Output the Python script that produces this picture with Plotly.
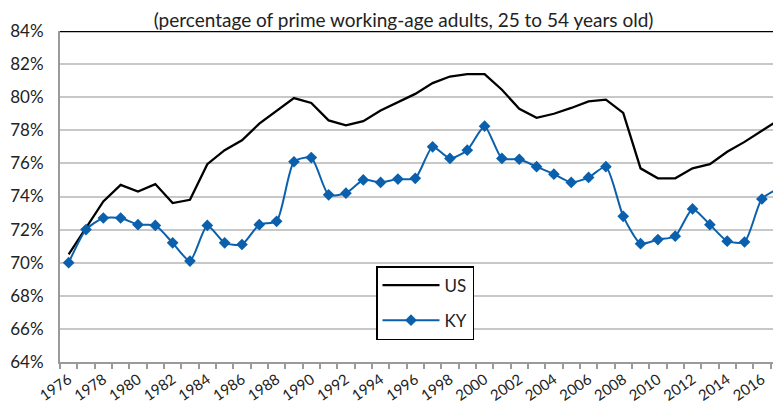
import plotly.graph_objects as go

years = list(range(1976, 2018))

us = [70.5, 72.1, 73.7, 74.7, 74.3, 74.75, 73.6, 73.8, 75.95, 76.8,
      77.4, 78.4, 79.15, 79.95, 79.65, 78.6, 78.3, 78.55, 79.2, 79.7,
      80.2, 80.85, 81.25, 81.4, 81.4, 80.45, 79.3, 78.75, 79.0, 79.35,
      79.75, 79.85, 79.05, 75.7, 75.1, 75.1, 75.7, 75.95, 76.7, 77.3,
      77.95, 78.65]

ky = [70.0, 72.0, 72.7, 72.7, 72.3, 72.25, 71.2, 70.1, 72.25, 71.2,
      71.1, 72.3, 72.5, 76.1, 76.35, 74.1, 74.2, 75.0, 74.85, 75.05,
      75.1, 77.0, 76.3, 76.8, 78.25, 76.3, 76.25, 75.8, 75.35, 74.85,
      75.15, 75.8, 72.8, 71.15, 71.4, 71.6, 73.25, 72.3, 71.3, 71.25,
      73.85, 74.5]

label_years = list(range(1976, 2017, 2))
y_ticks = list(range(64, 85, 2))
y_labels = [f"{v}%" for v in y_ticks]
title_text = "(percentage of prime working-age adults, 25 to 54 years old)"

FONT = "Lato"
OFF = 8  # default page body margin
W = 781 - 2 * OFF      # no horizontal page overflow
H = 413 - 2 * OFF      # no vertical page overflow
L, T = 60 - OFF, 31 - OFF
B = H - (362 - OFF)
PW = W - L
PH = H - T - B
STEP = 17.33           # px per year in the reference
x_end = 1975.5 + PW / STEP

fig = go.Figure()
fig.add_trace(go.Scatter(
    x=years, y=us, name="US", mode="lines", legendgroup="us",
    line=dict(color="black", width=2.3),
))
fig.add_trace(go.Scatter(
    x=years, y=ky, name="KY", mode="lines+markers", legendgroup="ky",
    line=dict(color="#0a60ad", width=2, shape="spline", smoothing=0.6),
    marker=dict(symbol="diamond", size=9, color="#0a60ad"),
))

fig.update_layout(
    width=W, height=H,
    margin=dict(l=L, r=0, t=T, b=B, autoexpand=False),
    paper_bgcolor="white", plot_bgcolor="white",
    font=dict(family=FONT, size=16, color="#222222"),
    title=dict(text=title_text, x=(403.5 - OFF) / W, xanchor="center",
               y=1 - 12.5 / H, yanchor="middle", yref="container",
               font=dict(family=FONT, size=19, color="#222222")),
    showlegend=True,
    legend=dict(x=(376 - 60) / PW, y=(362 - 266) / PH, xanchor="left", yanchor="top",
                bgcolor="white", bordercolor="black", borderwidth=1.5,
                font=dict(family=FONT, size=17, color="#222222"),
                traceorder="grouped", tracegroupgap=10,
                itemwidth=57),
    xaxis=dict(
        range=[1975.5, x_end], tickmode="array", tickvals=label_years,
        ticktext=[str(v) for v in label_years], tickangle=-35,
        ticks="", showgrid=False, zeroline=False,
        showline=True, linecolor="#9a9a9a", linewidth=2,
        ticklabelstandoff=1,
        tickfont=dict(family=FONT, size=15, color="#222222"),
        minor=dict(tick0=1975.5, dtick=1, ticks="outside", ticklen=5,
                   tickcolor="#9a9a9a", tickwidth=1.5, showgrid=False),
    ),
    yaxis=dict(
        range=[64, 84], tickmode="array", tickvals=y_ticks, ticktext=y_labels,
        showgrid=True, gridcolor="#c8c8c8", gridwidth=1.5,
        zeroline=False, showline=True, linecolor="#9a9a9a", linewidth=2,
        ticks="", ticklabelstandoff=11,
        tickfont=dict(family=FONT, size=17, color="#222222"),
    ),
    shapes=[dict(type="line", xref="paper", yref="y", x0=0, x1=1, y0=84, y1=84,
                 line=dict(color="black", width=2.3), layer="above")],
)

fig.write_html("out.html")
